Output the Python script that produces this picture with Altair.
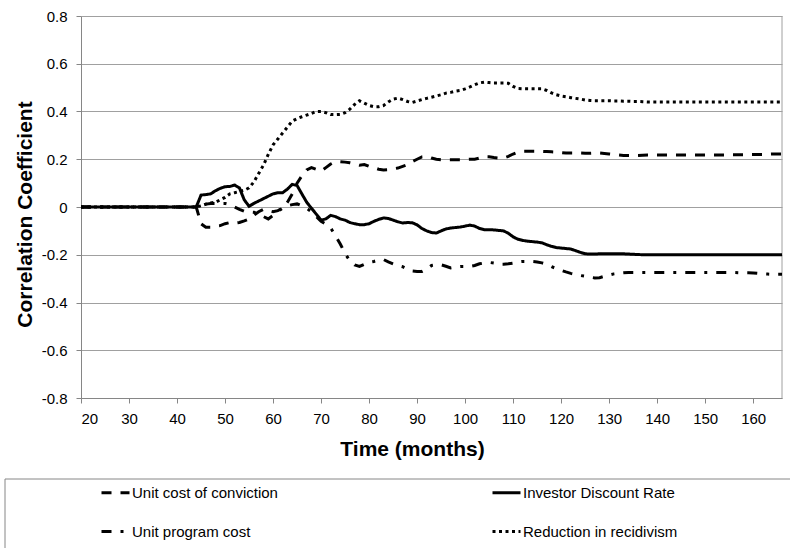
import altair as alt
import pandas as pd

# ---- data ----
months = list(range(20, 167))
lead = [0.0] * 24  # months 20-43 flat at zero

conviction = lead + [
    0.0, -0.07, -0.085, -0.085, -0.08, -0.078,
    -0.07, -0.065, -0.068, -0.065, -0.058, -0.05, -0.035, -0.02, -0.01, -0.015,
    -0.02, -0.015, -0.005, 0.02, 0.055, 0.1, 0.13, 0.155, 0.165, 0.158,
    0.15, 0.165, 0.18, 0.19, 0.19, 0.188, 0.185, 0.18, 0.175, 0.178,
    0.17, 0.165, 0.158, 0.155, 0.156, 0.16, 0.163, 0.17, 0.177, 0.19,
    0.2, 0.21, 0.212, 0.205, 0.2, 0.198, 0.198, 0.198, 0.198, 0.198,
    0.199, 0.2, 0.2, 0.205, 0.21, 0.21, 0.207, 0.205, 0.205, 0.212,
    0.222, 0.23, 0.233, 0.233, 0.233, 0.233, 0.233, 0.232, 0.231, 0.23,
    0.228, 0.226, 0.226, 0.226, 0.226, 0.225, 0.225, 0.226, 0.226, 0.224,
    0.222, 0.22, 0.218, 0.216, 0.216, 0.216, 0.216, 0.217, 0.218, 0.218,
    0.218, 0.218, 0.218, 0.218, 0.218, 0.218, 0.218, 0.218, 0.218, 0.218,
    0.218, 0.218, 0.218, 0.218, 0.218, 0.219, 0.219, 0.219, 0.219, 0.22,
    0.22, 0.22, 0.22, 0.221, 0.222, 0.222, 0.222,
]

investor = lead + [
    0.0, 0.05, 0.052, 0.055, 0.068, 0.078,
    0.085, 0.086, 0.092, 0.08, 0.03, 0.003, 0.015, 0.025, 0.035, 0.045,
    0.055, 0.06, 0.06, 0.075, 0.095, 0.09, 0.055, 0.02, -0.005, -0.03,
    -0.055, -0.05, -0.035, -0.04, -0.05, -0.055, -0.065, -0.07, -0.074, -0.074,
    -0.07, -0.06, -0.052, -0.046, -0.048, -0.055, -0.062, -0.067, -0.065, -0.066,
    -0.075, -0.09, -0.1, -0.107, -0.109, -0.1, -0.092, -0.088, -0.086, -0.084,
    -0.08, -0.076, -0.08, -0.09, -0.095, -0.095, -0.096, -0.098, -0.1, -0.11,
    -0.125, -0.135, -0.14, -0.143, -0.145, -0.147, -0.15, -0.158, -0.165, -0.17,
    -0.172, -0.174, -0.176, -0.183, -0.19, -0.196, -0.197, -0.197, -0.196, -0.196,
    -0.196, -0.196, -0.196, -0.196, -0.197, -0.198, -0.199, -0.2, -0.2, -0.2,
    -0.2, -0.2, -0.2, -0.2, -0.2, -0.2, -0.2, -0.2, -0.2, -0.2,
    -0.2, -0.2, -0.2, -0.2, -0.2, -0.2, -0.2, -0.2, -0.2, -0.2,
    -0.2, -0.2, -0.2, -0.2, -0.2, -0.2, -0.2,
]

program = lead + [
    0.0, 0.005, 0.012, 0.015, 0.015, 0.015,
    0.015, 0.01, 0.0, -0.01, -0.018, -0.02, -0.022, -0.028, -0.04, -0.05,
    -0.035, -0.018, -0.005, 0.005, 0.01, 0.013, 0.005, -0.005, -0.02, -0.04,
    -0.06, -0.072, -0.088, -0.12, -0.155, -0.195, -0.225, -0.243, -0.249, -0.24,
    -0.232, -0.228, -0.222, -0.22, -0.23, -0.238, -0.245, -0.25, -0.26, -0.268,
    -0.27, -0.27, -0.26, -0.245, -0.242, -0.242, -0.248, -0.255, -0.252, -0.249,
    -0.249, -0.249, -0.245, -0.238, -0.234, -0.232, -0.235, -0.24, -0.24, -0.238,
    -0.235, -0.23, -0.228, -0.228, -0.228, -0.23, -0.234, -0.24, -0.25, -0.258,
    -0.265, -0.272, -0.278, -0.282, -0.287, -0.29, -0.294, -0.297, -0.296, -0.29,
    -0.285, -0.28, -0.277, -0.275, -0.274, -0.274, -0.274, -0.274, -0.274, -0.274,
    -0.274, -0.274, -0.274, -0.274, -0.274, -0.274, -0.274, -0.274, -0.274, -0.274,
    -0.274, -0.274, -0.274, -0.274, -0.274, -0.274, -0.274, -0.275, -0.275, -0.275,
    -0.276, -0.278, -0.28, -0.281, -0.282, -0.282, -0.282,
]

recidivism = lead + [
    0.0, 0.005, 0.012, 0.017, 0.02, 0.03,
    0.04, 0.055, 0.06, 0.065, 0.07, 0.08, 0.105, 0.14, 0.175, 0.22,
    0.26, 0.285, 0.31, 0.335, 0.36, 0.37, 0.378, 0.385, 0.392, 0.4,
    0.4, 0.395, 0.387, 0.387, 0.388, 0.395, 0.41, 0.43, 0.445, 0.435,
    0.425, 0.42, 0.42, 0.425, 0.44, 0.452, 0.456, 0.45, 0.442, 0.438,
    0.444, 0.45, 0.455, 0.46, 0.465, 0.47, 0.477, 0.48, 0.485, 0.488,
    0.495, 0.503, 0.512, 0.52, 0.523, 0.521, 0.519, 0.519, 0.519, 0.518,
    0.505, 0.496, 0.495, 0.495, 0.495, 0.495, 0.495, 0.488, 0.478, 0.47,
    0.465, 0.462, 0.458, 0.455, 0.452, 0.448, 0.446, 0.445, 0.445, 0.445,
    0.445, 0.444, 0.444, 0.443, 0.443, 0.442, 0.442, 0.441, 0.44, 0.44,
    0.44, 0.44, 0.44, 0.44, 0.44, 0.44, 0.44, 0.44, 0.44, 0.44,
    0.44, 0.44, 0.44, 0.44, 0.44, 0.44, 0.44, 0.44, 0.44, 0.44,
    0.44, 0.44, 0.44, 0.44, 0.44, 0.44, 0.44,
]

# legend order (Vega fills legend columns top-to-bottom)
series_names = [
    "Unit cost of conviction",
    "Unit program cost",
    "Investor Discount Rate",
    "Reduction in recidivism",
]
series_values = [conviction, program, investor, recidivism]
x_ticks = [20, 30, 40, 50, 60, 70, 80, 90, 100, 110, 120, 130, 140, 150, 160]
y_ticks = [-0.8, -0.6, -0.4, -0.2, 0.0, 0.2, 0.4, 0.6, 0.8]

rows = []
for name, vals in zip(series_names, series_values):
    assert len(vals) == len(months), (name, len(vals))
    for m, v in zip(months, vals):
        rows.append({"month": m, "value": v, "series": name})
df = pd.DataFrame(rows)

# ---- styling ----
dash_range = [[10, 9], [10, 9, 3, 9], [1, 0], [3, 3.5]]
width_range = [3, 3, 3.5, 3]
GRID = "#a0a0a0"
AXIS = "#868686"
FONT = "Liberation Sans"

W, H = 701, 382

lines = alt.Chart(df).mark_line(color="black").encode(
    x=alt.X(
        "month:Q",
        scale=alt.Scale(domain=[20, 166], nice=False, zero=False),
        axis=alt.Axis(
            values=x_ticks, title="Time (months)", grid=False,
            labelFontSize=15, labelPadding=8, tickSize=5,
            titleFontSize=21, titleFontWeight="bold",
            titleX=331, titleY=57, titleBaseline="alphabetic", titleAlign="center",
        ),
    ),
    y=alt.Y(
        "value:Q",
        scale=alt.Scale(domain=[-0.8, 0.8], nice=False),
        axis=alt.Axis(
            values=y_ticks, title="Correlation Coefficient", grid=True,
            labelFontSize=15, labelPadding=9, tickSize=5,
            labelExpr="datum.value == 0 ? '0' : (datum.value < 0 ? '-' + format(-datum.value, '.1f') : format(datum.value, '.1f'))",
            titleFontSize=21, titleFontWeight="bold",
            titleX=-50, titleY=198, titleAngle=270, titleBaseline="alphabetic", titleAlign="center",
        ),
    ),
    strokeDash=alt.StrokeDash(
        "series:N",
        scale=alt.Scale(domain=series_names, range=dash_range),
        legend=alt.Legend(
            title=None, orient="none", legendX=19, legendY=461,
            columns=2, columnPadding=208, rowPadding=15,
            symbolType="stroke", symbolSize=784, symbolStrokeWidth=3,
            symbolStrokeColor="black", labelFontSize=15, labelLimit=400,
            labelOffset=1, padding=0,
        ),
    ),
    strokeWidth=alt.StrokeWidth(
        "series:N", scale=alt.Scale(domain=series_names, range=width_range), legend=None
    ),
)

one = pd.DataFrame({"k": [0]})
right_border = alt.Chart(one).mark_rule(color=GRID, strokeWidth=1).encode(
    x=alt.value(W), y=alt.value(0), y2=alt.value(H)
)
legend_box = alt.Chart(one).mark_rect(fillOpacity=0, stroke=AXIS, strokeWidth=1).encode(
    x=alt.value(-76), x2=alt.value(730), y=alt.value(463), y2=alt.value(560)
)

chart = (
    alt.layer(right_border, lines, legend_box)
    .properties(
        width=W, height=H,
        autosize=alt.AutoSizeParams(type="none"),
        padding={"left": 81, "top": 16, "right": 8, "bottom": 150},
        background="white",
    )
    .configure_view(stroke=None)
    .configure_axis(
        labelFont=FONT, titleFont=FONT, labelColor="black", titleColor="black",
        domainColor=AXIS, tickColor=AXIS, gridColor=GRID, gridWidth=1,
    )
    .configure_legend(labelFont=FONT, labelColor="black")
)

chart.save("out.html", embed_options={"renderer": "svg", "actions": False})
